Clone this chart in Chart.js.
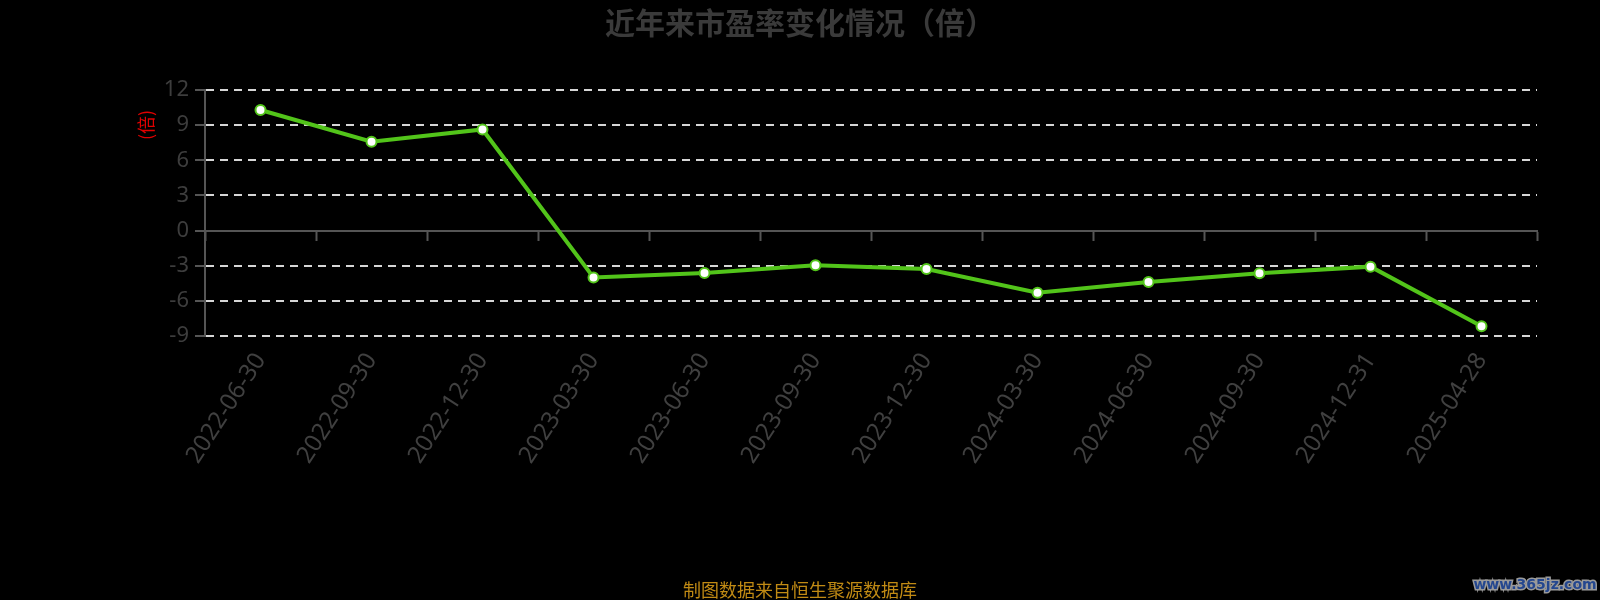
<!DOCTYPE html>
<html>
<head>
  <script src="https://cdn.jsdelivr.net/npm/chart.js@4/dist/chart.umd.min.js"></script>
  <style>
    body { margin: 0; background: #000; }
    #box { width: 1600px; height: 600px; }
  </style>
</head>
<body>
  <div id="box">
    <canvas id="wykres" width="1600" height="600"></canvas>
  </div>
  <script>
const dates = ['2022-06-30', '2022-09-30', '2022-12-30', '2023-03-30', '2023-06-30', '2023-09-30',
  '2023-12-30', '2024-03-30', '2024-06-30', '2024-09-30', '2024-12-31', '2025-04-28'];
const peValues = [10.29, 7.58, 8.63, -4.0, -3.63, -2.97, -3.28, -5.31, -4.4, -3.65, -3.08, -8.17];
const yTicks = [12, 9, 6, 3, 0, -3, -6, -9];

const titleText = '近年来市盈率变化情况（倍）';
const unitText = '(倍)';
const sourceText = '制图数据来自恒生聚源数据库';
const siteText = 'www.365jz.com';

const cjk = "'Noto Sans CJK SC', 'Noto Sans', sans-serif";
const latin = "'Noto Sans', 'Open Sans', sans-serif";

// czarne tlo + napisy dookola wykresu
const extras = {
  id: 'extras',
  beforeDraw(chart) {
    const c = chart.ctx;
    c.save();
    c.fillStyle = '#000';
    c.fillRect(0, 0, chart.width, chart.height);
    c.restore();
  },
  afterDraw(chart) {
    const c = chart.ctx;
    c.save();
    c.textAlign = 'center';
    c.textBaseline = 'middle';
    c.fillStyle = '#3a3a3a';
    c.font = 'bold 30px ' + cjk;
    c.fillText(titleText, 800, 23);

    c.fillStyle = '#c08a14';
    c.font = '18px ' + cjk;
    c.fillText(sourceText, 800, 590);

    c.font = 'bold 14px "DejaVu Sans", sans-serif';
    c.lineWidth = 3;
    c.strokeStyle = '#9a9a9a';
    c.strokeText(siteText, 1535, 585);
    c.fillStyle = '#24478f';
    c.fillText(siteText, 1535, 585);

    c.translate(146, 125);
    c.rotate(-Math.PI / 2);
    c.fillStyle = '#e00000';
    c.font = '18px ' + cjk;
    c.fillText(unitText, 0, 0);
    c.restore();
  }
};

const ctx = document.getElementById('wykres');
const myChart = new Chart(ctx, {
  type: 'line',
  data: {
    labels: dates,
    datasets: [{
      label: '市盈率',
      data: peValues,
      borderColor: '#52c41a',
      borderWidth: 4,
      pointRadius: 5,
      pointBorderWidth: 2,
      pointBackgroundColor: '#fff',
      pointBorderColor: '#52c41a',
      tension: 0
    }]
  },
  options: {
    responsive: false,
    animation: false,
    layout: { padding: { top: 90, right: 63, left: 0, bottom: 0 } },
    plugins: {
      legend: { display: false },
      title: { display: false },
      tooltip: { enabled: false }
    },
    scales: {
      x: {
        type: 'category',
        offset: true,
        grid: { display: false, offset: true },
        border: { display: false },
        ticks: {
          color: '#404040',
          font: { size: 24, family: latin },
          minRotation: 57,
          maxRotation: 57,
          padding: 4
        },
        afterFit(scale) { scale.height = 264; }
      },
      x2: {
        type: 'category',
        labels: dates,
        position: { y: 0 },
        offset: true,
        grid: { offset: true, drawOnChartArea: false, drawTicks: true, tickLength: 9, tickColor: '#555', tickWidth: 2 },
        border: { display: true, color: '#555', width: 2 },
        ticks: { display: false }
      },
      y: {
        min: -9,
        max: 12,
        afterBuildTicks(scale) { scale.ticks = yTicks.map(v => ({ value: v })); },
        ticks: {
          color: '#3d3d3d',
          font: { size: 22, family: latin },
          padding: 6
        },
        grid: {
          color: c => (c.tick && c.tick.value === 0) ? 'rgba(0,0,0,0)' : '#d6d6d6',
          lineWidth: 2,
          tickLength: 10,
          tickColor: '#555',
          tickWidth: 2
        },
        border: {
          display: true,
          color: '#555',
          width: 2,
          dash: c => (c.tick && c.tick.value === 0) ? [] : [8, 6]
        },
        afterFit(scale) { scale.width = 205; }
      }
    }
  },
  plugins: [extras]
});
  </script>
</body>
</html>
